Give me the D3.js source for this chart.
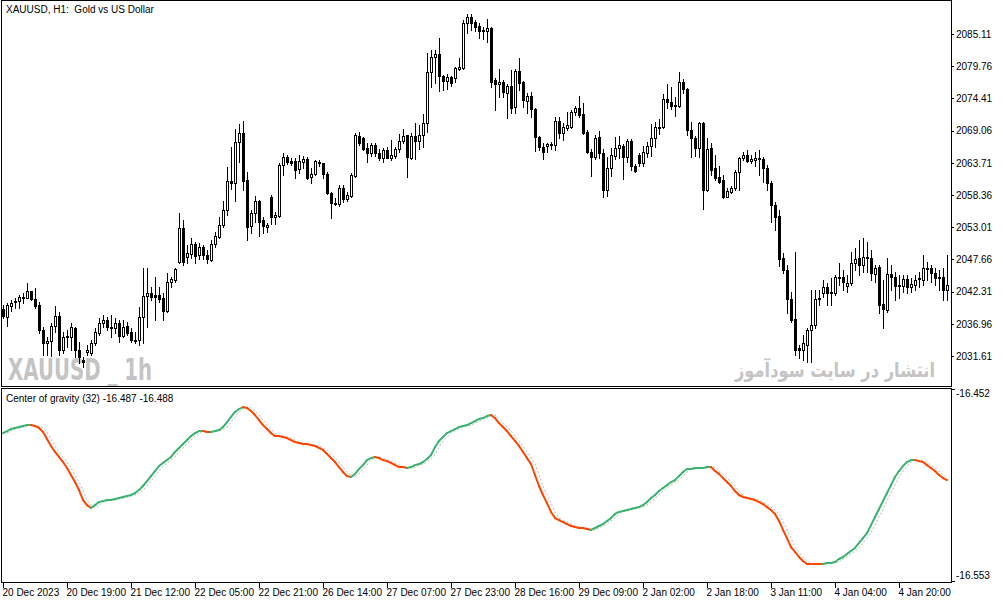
<!DOCTYPE html>
<html><head><meta charset="utf-8">
<script src="https://cdn.jsdelivr.net/npm/d3@7"></script>
<style>
body{margin:0;background:#fff;}
svg{display:block;}
text{font-family:'Liberation Sans',Arial,sans-serif;font-size:10px;fill:#000;white-space:pre;}
</style>
</head><body>
<svg id="c" width="1003" height="603"></svg>
<script>
const open=[2039.4,2038.1,2039.9,2040.6,2040.8,2041.3,2041.3,2042.4,2041.1,2040.1,
2035.9,2033.8,2034.1,2036.6,2038.3,2032.6,2034.8,2034.8,2036.3,2032.6,
2031.0,2032.3,2032.1,2033.8,2035.4,2037.1,2037.6,2036.4,2036.3,2037.1,
2034.9,2036.6,2035.6,2034.3,2034.3,2038.1,2041.6,2042.1,2041.8,2041.8,
2041.3,2039.1,2043.9,2044.2,2047.2,2052.9,2048.1,2048.6,2050.2,2048.4,
2049.7,2048.4,2047.6,2050.2,2051.4,2053.4,2055.9,2060.7,2060.3,2067.2,
2068.7,2060.9,2053.2,2055.4,2057.4,2054.2,2053.0,2058.0,2054.7,2054.9,
2063.3,2064.7,2064.0,2064.0,2062.7,2063.8,2064.3,2061.4,2061.8,2063.8,
2063.7,2061.8,2058.7,2056.9,2056.9,2059.5,2057.7,2058.2,2061.5,2068.2,
2067.8,2066.2,2065.3,2066.7,2065.3,2064.5,2065.8,2064.5,2064.8,2066.0,
2067.3,2068.3,2064.5,2068.2,2067.3,2068.3,2070.3,2078.8,2081.3,2081.8,
2078.1,2077.3,2078.0,2077.8,2079.3,2079.5,2086.9,2087.9,2087.1,2086.4,
2085.6,2085.6,2086.1,2077.5,2076.8,2077.1,2075.3,2076.5,2073.0,2079.0,
2077.1,2074.0,2074.8,2072.7,2068.0,2066.3,2066.5,2066.7,2066.7,2070.7,
2068.7,2069.5,2069.7,2072.2,2072.8,2071.8,2068.8,2065.5,2064.7,2068.0,
2065.3,2059.2,2062.8,2064.8,2066.2,2066.5,2064.7,2067.3,2063.2,2065.0,
2063.7,2065.3,2066.5,2067.8,2069.7,2069.7,2074.3,2073.8,2073.2,2073.2,
2077.1,2076.0,2069.2,2067.8,2066.2,2070.3,2059.2,2066.2,2062.8,2061.4,
2060.9,2058.0,2058.9,2059.5,2062.2,2064.5,2065.0,2064.0,2064.2,2064.5,
2064.3,2062.8,2060.3,2056.7,2054.9,2047.9,2045.9,2041.1,2037.8,2032.9,
2032.6,2033.4,2035.9,2036.8,2041.1,2042.1,2043.1,2042.1,2042.1,2044.6,
2044.7,2043.2,2043.7,2047.1,2047.9,2046.7,2047.9,2047.9,2045.2,2046.4,
2040.3,2039.3,2045.2,2044.7,2043.2,2043.2,2044.4,2043.1,2043.4,2044.4,
2044.2,2046.1,2046.2,2045.4,2044.6,2044.7,2042.6];
const high=[2040.1,2040.4,2040.9,2041.3,2041.8,2042.1,2043.7,2042.4,2042.9,2040.6,
2036.4,2034.8,2037.1,2039.9,2038.9,2035.6,2035.9,2037.1,2036.4,2033.9,
2031.5,2033.4,2034.3,2036.3,2037.9,2038.4,2038.1,2038.4,2037.9,2037.6,
2037.6,2037.3,2036.3,2035.6,2039.8,2046.2,2046.2,2043.1,2044.7,2043.1,
2042.1,2045.4,2044.7,2046.2,2055.4,2054.2,2050.1,2051.2,2050.5,2050.4,
2050.1,2049.2,2050.9,2052.2,2054.7,2057.4,2063.0,2066.3,2069.3,2070.2,
2070.7,2062.2,2055.9,2058.2,2057.5,2054.7,2053.7,2058.4,2055.5,2063.7,
2065.3,2065.0,2064.5,2064.5,2065.0,2064.8,2064.7,2062.8,2064.2,2064.2,
2063.7,2062.2,2058.9,2057.9,2060.0,2060.0,2058.9,2062.0,2068.7,2068.8,
2068.0,2067.0,2067.0,2067.0,2066.0,2066.2,2066.3,2067.5,2066.3,2068.5,
2069.3,2068.3,2068.7,2070.3,2070.0,2071.8,2082.0,2082.5,2082.5,2084.4,
2078.3,2078.5,2078.1,2079.6,2081.1,2087.4,2088.4,2088.4,2087.4,2086.9,
2086.3,2087.6,2086.3,2077.8,2079.3,2077.5,2076.8,2079.1,2079.3,2081.1,
2077.3,2075.3,2075.5,2072.8,2068.2,2067.0,2067.0,2067.2,2071.3,2071.3,
2070.3,2072.2,2072.5,2073.2,2074.8,2073.6,2069.2,2066.0,2068.3,2069.0,
2066.0,2064.7,2066.2,2068.0,2068.2,2066.8,2067.7,2067.7,2063.5,2065.3,
2066.5,2067.2,2070.2,2070.5,2071.0,2075.1,2076.8,2076.3,2074.6,2078.8,
2077.6,2076.1,2070.5,2068.2,2070.5,2070.5,2067.8,2067.0,2065.0,2063.2,
2061.7,2059.5,2059.9,2062.5,2064.7,2065.5,2065.8,2065.0,2065.5,2065.8,
2064.7,2063.3,2060.7,2057.2,2055.9,2048.7,2046.7,2042.2,2048.9,2033.4,
2035.1,2036.3,2042.6,2042.6,2042.6,2044.2,2043.7,2044.6,2045.1,2047.1,
2045.9,2045.1,2048.9,2049.6,2050.9,2051.2,2050.5,2049.2,2046.7,2046.7,
2044.2,2047.9,2046.7,2045.6,2045.1,2045.1,2045.1,2044.6,2045.1,2045.6,
2048.4,2047.2,2046.7,2046.2,2045.9,2046.2,2048.4];
const low=[2037.9,2036.6,2039.1,2039.6,2039.6,2040.4,2041.3,2040.9,2039.6,2035.4,
2031.8,2031.8,2031.6,2035.6,2031.8,2032.1,2033.1,2032.6,2031.5,2030.5,
2029.8,2031.8,2031.8,2033.4,2035.1,2036.4,2035.9,2034.8,2035.4,2033.9,
2034.8,2035.1,2033.9,2033.8,2033.4,2033.8,2036.4,2040.9,2037.6,2040.6,
2037.6,2038.9,2043.1,2043.9,2047.1,2046.7,2047.1,2047.9,2047.1,2047.7,
2047.7,2047.1,2047.4,2049.7,2051.2,2053.0,2055.0,2059.4,2057.4,2063.8,
2059.2,2050.9,2052.0,2053.9,2051.5,2052.0,2052.2,2053.5,2053.5,2054.7,
2061.7,2063.5,2063.3,2061.2,2062.0,2062.8,2061.0,2060.3,2061.7,2063.2,
2061.2,2058.5,2054.5,2056.7,2056.5,2057.2,2057.4,2058.0,2061.4,2066.7,
2065.8,2063.8,2064.8,2064.8,2064.2,2063.8,2064.5,2064.2,2064.5,2065.5,
2067.0,2061.4,2064.3,2064.3,2066.0,2066.3,2068.8,2076.3,2077.0,2075.6,
2075.8,2076.0,2076.5,2077.1,2079.1,2079.3,2085.3,2085.8,2085.6,2084.4,
2084.3,2083.8,2076.3,2072.5,2074.6,2074.6,2071.2,2072.0,2072.0,2075.8,
2073.0,2072.0,2071.3,2065.7,2065.8,2064.3,2065.5,2066.0,2065.8,2067.8,
2067.5,2069.2,2069.5,2071.7,2071.3,2068.5,2065.3,2061.5,2064.3,2064.5,
2058.0,2058.2,2061.5,2064.3,2064.5,2061.0,2063.8,2062.5,2062.2,2063.2,
2063.2,2064.7,2064.8,2066.3,2068.5,2069.5,2072.8,2072.7,2071.5,2073.0,
2075.3,2068.3,2064.7,2064.8,2064.7,2056.0,2059.0,2061.7,2060.9,2060.3,
2057.9,2058.0,2058.7,2059.2,2059.2,2064.2,2063.8,2063.7,2063.2,2061.7,
2060.5,2059.2,2053.9,2052.6,2046.6,2045.4,2038.8,2037.3,2031.8,2031.3,
2031.0,2030.6,2030.6,2036.3,2040.1,2041.4,2040.1,2040.1,2041.8,2043.4,
2042.6,2042.2,2043.4,2045.9,2045.1,2045.6,2045.6,2044.2,2043.9,2038.8,
2036.3,2038.9,2042.6,2040.9,2041.3,2042.2,2042.1,2042.2,2042.6,2043.1,
2043.4,2044.2,2043.9,2043.4,2042.6,2040.9,2040.9];
const close=[2038.3,2040.1,2040.4,2040.8,2041.4,2041.4,2042.4,2041.1,2039.9,2035.9,
2033.8,2034.1,2036.6,2038.3,2032.6,2034.8,2034.9,2036.4,2032.6,2031.5,
2030.6,2032.6,2033.8,2035.6,2037.1,2037.6,2036.4,2036.3,2037.1,2034.9,
2036.4,2035.4,2034.3,2034.1,2038.1,2041.6,2042.1,2041.4,2041.4,2041.1,
2039.1,2043.9,2044.4,2046.1,2052.9,2047.2,2048.7,2050.2,2048.2,2049.7,
2048.4,2047.7,2050.2,2051.5,2053.4,2055.9,2060.7,2060.3,2067.2,2068.7,
2060.7,2053.0,2055.4,2057.4,2053.9,2053.2,2053.4,2054.7,2055.0,2063.3,
2064.7,2063.8,2063.7,2062.5,2064.0,2064.3,2061.2,2061.8,2064.0,2063.7,
2061.8,2058.7,2057.0,2057.0,2059.5,2057.7,2058.4,2061.7,2068.3,2067.0,
2066.0,2065.3,2066.7,2065.3,2064.5,2065.8,2064.5,2065.0,2066.0,2067.3,
2068.2,2064.7,2068.2,2067.3,2068.3,2070.3,2078.8,2081.3,2081.8,2078.1,
2077.3,2078.0,2077.0,2079.5,2079.6,2086.9,2087.9,2086.9,2086.3,2085.6,
2085.8,2086.1,2077.1,2076.8,2077.1,2075.5,2076.5,2072.8,2079.0,2077.0,
2074.2,2074.8,2072.7,2068.0,2066.3,2065.5,2066.8,2066.8,2070.7,2068.7,
2069.7,2070.0,2072.2,2072.8,2071.7,2068.7,2065.5,2064.7,2067.8,2065.3,
2059.2,2062.8,2065.0,2066.2,2066.7,2064.7,2067.3,2063.2,2062.3,2063.7,
2065.5,2066.5,2067.8,2069.7,2069.5,2074.3,2073.8,2073.2,2073.3,2077.1,
2076.0,2069.2,2067.8,2066.2,2070.3,2059.2,2066.0,2062.5,2061.2,2060.5,
2058.0,2059.0,2059.5,2062.2,2064.5,2065.0,2064.0,2064.3,2064.5,2064.3,
2062.8,2060.3,2056.7,2054.7,2047.7,2045.9,2041.1,2037.6,2032.6,2032.6,
2033.8,2035.9,2036.8,2041.1,2041.3,2043.1,2042.1,2042.2,2044.7,2044.7,
2043.9,2043.7,2047.1,2047.7,2046.7,2048.1,2048.1,2045.4,2046.2,2040.1,
2039.4,2045.2,2044.7,2043.2,2043.4,2044.4,2043.1,2043.6,2044.2,2044.6,
2046.2,2046.2,2045.4,2044.6,2044.7,2042.6,2043.4];

const cogMain=[-16.4731,-16.4720,-16.4709,-16.4703,-16.4698,-16.4692,-16.4687,-16.4687,-16.4692,-16.4703,
-16.4725,-16.4764,-16.4803,-16.4836,-16.4864,-16.4892,-16.4925,-16.4964,-16.5003,-16.5047,
-16.5103,-16.5131,-16.5147,-16.5131,-16.5114,-16.5109,-16.5103,-16.5103,-16.5097,-16.5092,
-16.5086,-16.5081,-16.5075,-16.5064,-16.5047,-16.5025,-16.4998,-16.4970,-16.4942,-16.4914,
-16.4897,-16.4881,-16.4864,-16.4836,-16.4814,-16.4792,-16.4770,-16.4748,-16.4731,-16.4720,
-16.4720,-16.4725,-16.4725,-16.4720,-16.4714,-16.4698,-16.4670,-16.4642,-16.4614,-16.4598,
-16.4587,-16.4592,-16.4609,-16.4631,-16.4659,-16.4687,-16.4709,-16.4731,-16.4748,-16.4748,
-16.4753,-16.4759,-16.4770,-16.4781,-16.4786,-16.4792,-16.4792,-16.4798,-16.4803,-16.4814,
-16.4825,-16.4847,-16.4870,-16.4892,-16.4920,-16.4947,-16.4970,-16.4975,-16.4958,-16.4931,
-16.4909,-16.4881,-16.4870,-16.4864,-16.4870,-16.4881,-16.4887,-16.4897,-16.4909,-16.4920,
-16.4920,-16.4925,-16.4920,-16.4909,-16.4903,-16.4892,-16.4875,-16.4853,-16.4809,-16.4775,
-16.4753,-16.4731,-16.4720,-16.4709,-16.4698,-16.4692,-16.4687,-16.4676,-16.4665,-16.4653,
-16.4648,-16.4637,-16.4631,-16.4648,-16.4676,-16.4698,-16.4720,-16.4748,-16.4775,-16.4803,
-16.4836,-16.4870,-16.4903,-16.4964,-16.5025,-16.5075,-16.5120,-16.5169,-16.5203,-16.5214,
-16.5225,-16.5236,-16.5247,-16.5253,-16.5258,-16.5258,-16.5264,-16.5269,-16.5258,-16.5247,
-16.5236,-16.5219,-16.5203,-16.5180,-16.5169,-16.5164,-16.5158,-16.5153,-16.5147,-16.5142,
-16.5131,-16.5114,-16.5092,-16.5075,-16.5053,-16.5036,-16.5020,-16.5003,-16.4992,-16.4970,
-16.4947,-16.4931,-16.4931,-16.4925,-16.4925,-16.4925,-16.4920,-16.4920,-16.4942,-16.4958,
-16.4981,-16.5003,-16.5025,-16.5053,-16.5075,-16.5086,-16.5092,-16.5097,-16.5103,-16.5114,
-16.5125,-16.5142,-16.5158,-16.5180,-16.5219,-16.5269,-16.5314,-16.5364,-16.5391,-16.5419,
-16.5441,-16.5458,-16.5458,-16.5458,-16.5458,-16.5458,-16.5452,-16.5452,-16.5447,-16.5430,
-16.5419,-16.5402,-16.5386,-16.5369,-16.5341,-16.5314,-16.5286,-16.5242,-16.5197,-16.5153,
-16.5109,-16.5064,-16.5020,-16.4975,-16.4942,-16.4914,-16.4892,-16.4881,-16.4881,-16.4887,
-16.4892,-16.4909,-16.4925,-16.4942,-16.4964,-16.4981,-16.4992];

const cogSignal=[-16.4731,-16.4731,-16.4720,-16.4709,-16.4703,-16.4698,-16.4692,-16.4687,-16.4687,-16.4692,
-16.4703,-16.4725,-16.4764,-16.4803,-16.4836,-16.4864,-16.4892,-16.4925,-16.4964,-16.5003,
-16.5047,-16.5103,-16.5131,-16.5147,-16.5131,-16.5114,-16.5109,-16.5103,-16.5103,-16.5097,
-16.5092,-16.5086,-16.5081,-16.5075,-16.5064,-16.5047,-16.5025,-16.4998,-16.4970,-16.4942,
-16.4914,-16.4897,-16.4881,-16.4864,-16.4836,-16.4814,-16.4792,-16.4770,-16.4748,-16.4731,
-16.4720,-16.4720,-16.4725,-16.4725,-16.4720,-16.4714,-16.4698,-16.4670,-16.4642,-16.4614,
-16.4598,-16.4587,-16.4592,-16.4609,-16.4631,-16.4659,-16.4687,-16.4709,-16.4731,-16.4748,
-16.4748,-16.4753,-16.4759,-16.4770,-16.4781,-16.4786,-16.4792,-16.4792,-16.4798,-16.4803,
-16.4814,-16.4825,-16.4847,-16.4870,-16.4892,-16.4920,-16.4947,-16.4970,-16.4975,-16.4958,
-16.4931,-16.4909,-16.4881,-16.4870,-16.4864,-16.4870,-16.4881,-16.4887,-16.4897,-16.4909,
-16.4920,-16.4920,-16.4925,-16.4920,-16.4909,-16.4903,-16.4892,-16.4875,-16.4853,-16.4809,
-16.4775,-16.4753,-16.4731,-16.4720,-16.4709,-16.4698,-16.4692,-16.4687,-16.4676,-16.4665,
-16.4653,-16.4648,-16.4637,-16.4631,-16.4648,-16.4676,-16.4698,-16.4720,-16.4748,-16.4775,
-16.4803,-16.4836,-16.4870,-16.4903,-16.4964,-16.5025,-16.5075,-16.5120,-16.5169,-16.5203,
-16.5214,-16.5225,-16.5236,-16.5247,-16.5253,-16.5258,-16.5258,-16.5264,-16.5269,-16.5258,
-16.5247,-16.5236,-16.5219,-16.5203,-16.5180,-16.5169,-16.5164,-16.5158,-16.5153,-16.5147,
-16.5142,-16.5131,-16.5114,-16.5092,-16.5075,-16.5053,-16.5036,-16.5020,-16.5003,-16.4992,
-16.4970,-16.4947,-16.4931,-16.4931,-16.4925,-16.4925,-16.4925,-16.4920,-16.4920,-16.4942,
-16.4958,-16.4981,-16.5003,-16.5025,-16.5053,-16.5075,-16.5086,-16.5092,-16.5097,-16.5103,
-16.5114,-16.5125,-16.5142,-16.5158,-16.5180,-16.5219,-16.5269,-16.5314,-16.5364,-16.5391,
-16.5419,-16.5441,-16.5458,-16.5458,-16.5458,-16.5458,-16.5458,-16.5452,-16.5452,-16.5447,
-16.5430,-16.5419,-16.5402,-16.5386,-16.5369,-16.5341,-16.5314,-16.5286,-16.5242,-16.5197,
-16.5153,-16.5109,-16.5064,-16.5020,-16.4975,-16.4942,-16.4914,-16.4892,-16.4881,-16.4881,
-16.4887,-16.4892,-16.4909,-16.4925,-16.4942,-16.4964,-16.4981];

const xLabels=["20 Dec 2023","20 Dec 19:00","21 Dec 12:00","22 Dec 05:00","22 Dec 21:00","26 Dec 14:00","27 Dec 07:00","27 Dec 23:00","28 Dec 16:00","29 Dec 09:00","2 Jan 02:00","2 Jan 18:00","3 Jan 11:00","4 Jan 04:00","4 Jan 20:00"];
const xLabelBars=[0,16,32,48,64,80,96,112,128,144,160,176,192,208,224];
const priceTicks=[2085.11,2079.76,2074.41,2069.06,2063.71,2058.36,2053.01,2047.66,2042.31,2036.96,2031.61];
const cogTicks=[-16.452,-16.553];
const title="XAUUSD, H1:  Gold vs US Dollar";
const cogTitle="Center of gravity (32) -16.487 -16.488";
const watermark1="XAUUSD _ 1h";
const watermark2="انتشار در سایت سودآموز";

const svg=d3.select("#c");
const n=open.length;
const x=d3.scaleLinear().domain([0,236]).range([3,947]);
const y=d3.scaleLinear().domain([2031.61,2085.11]).range([356,34]);
const cy=d3.scaleLinear().domain([-16.553,-16.452]).range([577,395]);

const mainTop=0.5,mainBot=386.5,left=1.5,right=951.5,indTop=388.5,indBot=582.5;

svg.append("defs").call(d=>{
  d.append("clipPath").attr("id","cm").append("rect").attr("x",2).attr("y",1).attr("width",949).attr("height",385);
  d.append("clipPath").attr("id","ci").append("rect").attr("x",2).attr("y",389).attr("width",949).attr("height",193);
});

// watermarks
svg.append("text").attr("x",8).attr("y",380).text(watermark1)
  .style("font-family","'DejaVu Sans',sans-serif").style("font-weight","bold").style("font-size","30px")
  .style("fill","#c4c4c4").attr("textLength",144).attr("lengthAdjust","spacingAndGlyphs");
const wm2=svg.append("text").attr("x",0).attr("y",0).text(watermark2)
  .style("font-family","'DejaVu Sans',sans-serif").style("font-weight","bold").style("font-size","20px")
  .style("fill","#c4c4c4");
const w2=wm2.node().getComputedTextLength();
wm2.attr("transform",`translate(735,377) scale(${200/w2},1)`);

// candles
const gc=svg.append("g").attr("clip-path","url(#cm)").attr("shape-rendering","crispEdges");
const idx=d3.range(n);
gc.selectAll("line.w").data(idx).join("line").attr("class","w")
  .attr("x1",i=>Math.round(x(i))+0.5).attr("x2",i=>Math.round(x(i))+0.5)
  .attr("y1",i=>Math.round(y(Math.max(high[i],open[i],close[i]))))
  .attr("y2",i=>Math.round(y(Math.min(low[i],open[i],close[i])))+1)
  .attr("stroke","#000").attr("stroke-width",1);
idx.forEach(i=>{
  const xs=Math.round(x(i));
  const top=Math.round(y(Math.max(open[i],close[i])));
  const bot=Math.round(y(Math.min(open[i],close[i])));
  if(close[i]>=open[i]){
    if(bot-top<1){
      gc.append("line").attr("x1",xs-1).attr("x2",xs+2).attr("y1",top+0.5).attr("y2",top+0.5).attr("stroke","#000");
    } else {
      gc.append("rect").attr("x",xs-0.5).attr("y",top+0.5).attr("width",2).attr("height",bot-top)
        .attr("fill","#fff").attr("stroke","#000").attr("stroke-width",1);
    }
  } else {
    gc.append("rect").attr("x",xs-1).attr("y",top).attr("width",3).attr("height",Math.max(bot-top+1,1))
      .attr("fill","#000");
  }
});

// indicator
const gi=svg.append("g").attr("clip-path","url(#ci)");
const lineGen=d3.line().x((d,i)=>x(i)).y(d=>cy(d));
gi.append("path").attr("d",lineGen(cogSignal)).attr("fill","none").attr("stroke","#b8b8b8")
  .attr("stroke-width",1).attr("stroke-dasharray","2,2");
let col="#3cb371";
for(let i=1;i<n;i++){
  if(cogMain[i]>cogMain[i-1]) col="#3cb371"; else if(cogMain[i]<cogMain[i-1]) col="#ff4500";
  gi.append("line").attr("x1",x(i-1)).attr("y1",cy(cogMain[i-1])).attr("x2",x(i)).attr("y2",cy(cogMain[i]))
    .attr("stroke",col).attr("stroke-width",2).attr("stroke-linecap","round");
}

// frames
const gf=svg.append("g").attr("shape-rendering","crispEdges");
gf.append("rect").attr("x",left).attr("y",mainTop).attr("width",right-left).attr("height",mainBot-mainTop)
  .attr("fill","none").attr("stroke","#000");
gf.append("rect").attr("x",left).attr("y",indTop).attr("width",right-left).attr("height",indBot-indTop)
  .attr("fill","none").attr("stroke","#000");

// price axis
const ay=svg.append("g").attr("transform","translate(951,0)")
  .call(d3.axisRight(y).tickValues(priceTicks).tickSize(3).tickPadding(2).tickFormat(d3.format(".2f")));
ay.select(".domain").remove();
ay.selectAll("line").attr("stroke","#000").attr("shape-rendering","crispEdges");
ay.selectAll("text").style("font-family","'Liberation Sans',Arial,sans-serif").style("font-size","10px").attr("fill","#000");

// indicator axis labels
const fmt3=d3.format(".3f");
cogTicks.forEach((v,k)=>{
  const ty=k===0?indTop+1:indBot-1.5;
  svg.append("line").attr("x1",951).attr("x2",955).attr("y1",ty).attr("y2",ty).attr("stroke","#000").attr("shape-rendering","crispEdges");
  svg.append("text").attr("x",956).attr("y",cy(v)+2).text(fmt3(v).replace("−","-"));
});

// x axis
xLabelBars.forEach((b,k)=>{
  const xs=Math.round(x(b))+0.5;
  svg.append("line").attr("x1",xs).attr("x2",xs).attr("y1",583).attr("y2",588).attr("stroke","#000").attr("shape-rendering","crispEdges");
  svg.append("text").attr("x",xs-1).attr("y",596).text(xLabels[k]);
});

// titles
svg.append("text").attr("x",6).attr("y",13).attr("xml:space","preserve").text(title);
svg.append("text").attr("x",6).attr("y",402).text(cogTitle);
</script>
</body></html>
